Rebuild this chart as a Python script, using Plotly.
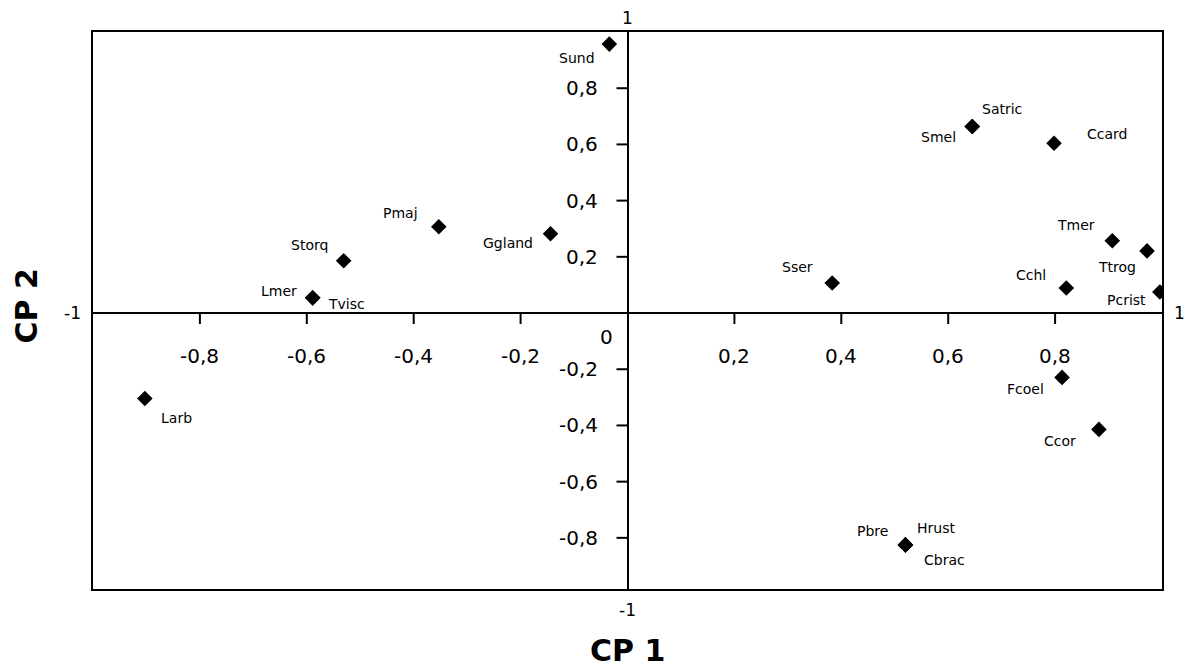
import plotly.graph_objects as go

# ---- data ----
species = ["Sund", "Satric", "Smel", "Ccard", "Pmaj", "Ggland", "Storq", "Lmer", "Tvisc",
           "Sser", "Tmer", "Ttrog", "Cchl", "Pcrist", "Fcoel", "Ccor", "Larb",
           "Pbre", "Hrust", "Cbrac"]
cp1 = [-0.034, 0.645, 0.645, 0.798, -0.353, -0.144, -0.531, -0.589, -0.589,
       0.383, 0.907, 0.972, 0.821, 0.996, 0.813, 0.882, -0.903,
       0.520, 0.520, 0.520]
cp2 = [0.957, 0.664, 0.664, 0.604, 0.307, 0.282, 0.186, 0.054, 0.054,
       0.107, 0.257, 0.221, 0.089, 0.075, -0.229, -0.414, -0.304,
       -0.825, -0.825, -0.825]
# label offsets in pixels (dx right, dy down)
label_dx = [-32, 30, -34, 53, -38, -43, -34, -34, 34, -35, -36, -30, -35, -33, -37, -39, 32, -33, 31, 39]
label_dy = [14, -17, 11, -9, -14, 9, -16, -7, 6, -16, -16, 16, -13, 8, 12, 12, 20, -14, -17, 15]

x_ticks = [-0.8, -0.6, -0.4, -0.2, 0.2, 0.4, 0.6, 0.8]
x_tick_labels = ["-0,8", "-0,6", "-0,4", "-0,2", "0,2", "0,4", "0,6", "0,8"]
y_ticks = [0.8, 0.6, 0.4, 0.2, -0.2, -0.4, -0.6, -0.8]
y_tick_labels = ["0,8", "0,6", "0,4", "0,2", "-0,2", "-0,4", "-0,6", "-0,8"]

FONT = "DejaVu Sans"

fig = go.Figure()
fig.add_trace(go.Scatter(
    x=cp1, y=cp2, mode="markers",
    marker=dict(symbol="diamond", size=12, color="black"),
    hoverinfo="text", text=species, showlegend=False,
))

annotations = []
for name, x, y, dx, dy in zip(species, cp1, cp2, label_dx, label_dy):
    annotations.append(dict(x=x, y=y, xref="x", yref="y", text=name, showarrow=False,
                            xanchor="center", yanchor="middle",
                            xshift=dx, yshift=-dy,
                            font=dict(family=FONT, size=14, color="black")))

shapes = []
for t, lab in zip(x_ticks, x_tick_labels):
    shapes.append(dict(type="line", xref="x", yref="y", x0=t, x1=t, ysizemode="pixel",
                       yanchor=0, y0=0, y1=-11, line=dict(color="black", width=2)))
    annotations.append(dict(x=t, y=0, xref="x", yref="y", text=lab, showarrow=False,
                            xanchor="center", yanchor="middle",
                            yshift=-43, font=dict(family=FONT, size=20, color="black")))
for t, lab in zip(y_ticks, y_tick_labels):
    shapes.append(dict(type="line", xref="x", yref="y", y0=t, y1=t, xsizemode="pixel",
                       xanchor=0, x0=0, x1=-11, line=dict(color="black", width=2)))
    annotations.append(dict(x=0, y=t, xref="x", yref="y", text=lab, showarrow=False,
                            xanchor="right", yanchor="middle", xshift=-28,
                            font=dict(family=FONT, size=20, color="black")))

# end labels of the axes
end_font = dict(family=FONT, size=17, color="black")
annotations += [
    dict(x=0, y=1, xref="x", yref="paper", text="1", showarrow=False,
         xanchor="center", yanchor="middle", yshift=14, font=end_font),
    dict(x=0, y=0, xref="x", yref="paper", text="-1", showarrow=False,
         xanchor="center", yanchor="middle", yshift=-21, font=end_font),
    dict(x=0, y=0, xref="paper", yref="y", text="-1", showarrow=False,
         xanchor="center", yanchor="middle", xshift=-21, font=end_font),
    dict(x=1, y=0, xref="paper", yref="y", text="1", showarrow=False,
         xanchor="center", yanchor="middle", xshift=17, font=end_font),
    dict(x=0, y=0, xref="x", yref="y", text="0", showarrow=False,
         xanchor="center", yanchor="middle", xshift=-21, yshift=-24,
         font=dict(family=FONT, size=20, color="black")),
    dict(x=0.5, y=0, xref="paper", yref="paper", text="<b>CP 1</b>", showarrow=False,
         xanchor="center", yanchor="middle",
         yshift=-61, font=dict(family=FONT, size=30, color="black")),
    dict(x=0, y=0.5, xref="paper", yref="paper", text="<b>CP 2</b>", showarrow=False,
         xanchor="center", yanchor="middle",
         xshift=-67, yshift=4, textangle=-90, font=dict(family=FONT, size=30, color="black")),
]

fig.update_layout(
    width=1186, height=670,
    margin=dict(l=93, r=24, t=32, b=81),
    paper_bgcolor="white", plot_bgcolor="white",
    xaxis=dict(range=[-1, 1], showgrid=False, showticklabels=False, ticks="",
               zeroline=True, zerolinecolor="black", zerolinewidth=2,
               showline=True, mirror=True, linecolor="black", linewidth=2, fixedrange=True),
    yaxis=dict(range=[-0.982, 1], showgrid=False, showticklabels=False, ticks="",
               zeroline=True, zerolinecolor="black", zerolinewidth=2,
               showline=True, mirror=True, linecolor="black", linewidth=2, fixedrange=True),
    annotations=annotations, shapes=shapes,
)

fig.write_html("out.html", config={"displayModeBar": False},
               post_script="document.body.style.margin='0';document.body.style.overflow='hidden';")
